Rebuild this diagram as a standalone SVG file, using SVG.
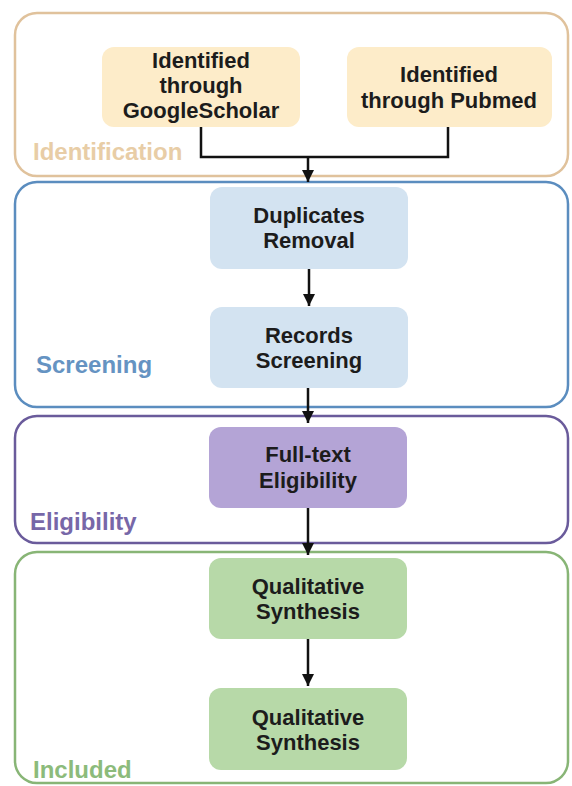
<svg xmlns="http://www.w3.org/2000/svg" width="572" height="786" viewBox="0 0 572 786">
<defs>
<marker id="ah" viewBox="0 0 12 14" refX="12" refY="6" markerWidth="12" markerHeight="14" markerUnits="userSpaceOnUse" orient="auto">
<path d="M0 0 L12 6 L0 12 Z" fill="#111"/>
</marker>
<style>
.cont{fill:none;stroke-width:2.5}
.node{stroke:none}
.t{font-family:"Liberation Sans",Arial,sans-serif;font-weight:bold;font-size:22px;fill:#1c1c1c;text-anchor:middle}
.lbl{font-family:"Liberation Sans",Arial,sans-serif;font-weight:bold;font-size:24px}
.conn{fill:none;stroke:#111;stroke-width:2.5}
</style>
</defs>
<rect width="572" height="786" fill="#fff"/>
<g id="identification">
<rect class="cont" x="15" y="13" width="553" height="163" rx="22" stroke="#e0c29c"/>
<text class="lbl" x="33" y="160" fill="#e8cda6">Identification</text>
</g>
<g id="screening">
<rect class="cont" x="15" y="182" width="553" height="225" rx="22" stroke="#5b8dbf"/>
<text class="lbl" x="36" y="373" fill="#6593c2">Screening</text>
</g>
<g id="eligibility">
<rect class="cont" x="15" y="416" width="553" height="127" rx="22" stroke="#6a5b9b"/>
<text class="lbl" x="30" y="530" fill="#7767a8" font-size="23">Eligibility</text>
</g>
<g id="included">
<rect class="cont" x="15" y="552" width="553" height="231" rx="22" stroke="#88b576"/>
<text class="lbl" x="33" y="778" fill="#8cbb7b" font-size="23">Included</text>
</g>
<g id="google">
<rect class="node" x="102" y="47" width="198" height="80" rx="12" fill="#fdecc9"/>
<text class="t" x="201" y="68">Identified</text>
<text class="t" x="201" y="93">through</text>
<text class="t" x="201" y="118">GoogleScholar</text>
</g>
<g id="pubmed">
<rect class="node" x="347" y="47" width="205" height="80" rx="12" fill="#fdecc9"/>
<text class="t" x="449" y="82">Identified</text>
<text class="t" x="449" y="108">through Pubmed</text>
</g>
<g id="duplicates">
<rect class="node" x="210" y="187" width="198" height="82" rx="12" fill="#d3e3f1"/>
<text class="t" x="309" y="223">Duplicates</text>
<text class="t" x="309" y="248">Removal</text>
</g>
<g id="records">
<rect class="node" x="210" y="307" width="198" height="81" rx="12" fill="#d3e3f1"/>
<text class="t" x="309" y="343">Records</text>
<text class="t" x="309" y="368">Screening</text>
</g>
<g id="fulltext">
<rect class="node" x="209" y="427" width="198" height="81" rx="12" fill="#b4a4d6"/>
<text class="t" x="308" y="462">Full-text</text>
<text class="t" x="308" y="488">Eligibility</text>
</g>
<g id="qual1">
<rect class="node" x="209" y="558" width="198" height="81" rx="12" fill="#b7d9a8"/>
<text class="t" x="308" y="594">Qualitative</text>
<text class="t" x="308" y="619">Synthesis</text>
</g>
<g id="qual2">
<rect class="node" x="209" y="688" width="198" height="82" rx="12" fill="#b7d9a8"/>
<text class="t" x="308" y="725">Qualitative</text>
<text class="t" x="308" y="750">Synthesis</text>
</g>
<g id="connectors">
<path class="conn" d="M201 127 V157 H448 V127"/>
<path class="conn" d="M308 157 V182" marker-end="url(#ah)"/>
<path class="conn" d="M309 269 V306" marker-end="url(#ah)"/>
<path class="conn" d="M308 388 V423" marker-end="url(#ah)"/>
<path class="conn" d="M308 508 V555" marker-end="url(#ah)"/>
<path class="conn" d="M308 639 V686" marker-end="url(#ah)"/>
</g>
</svg>
